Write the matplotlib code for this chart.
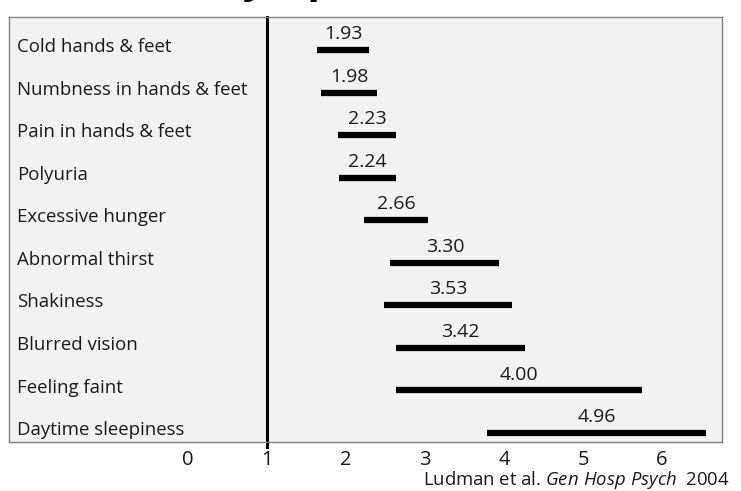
import numpy as np
from matplotlib import pyplot as plt

plt.rcParams['font.family'] = ['Open Sans', 'DejaVu Sans']
plt.rcParams['mathtext.fontset'] = 'custom'
plt.rcParams['mathtext.rm'] = 'Open Sans'
plt.rcParams['mathtext.it'] = 'Open Sans:italic'

symptoms = ['Cold hands & feet', 'Numbness in hands & feet', 'Pain in hands & feet',
            'Polyuria', 'Excessive hunger', 'Abnormal thirst', 'Shakiness',
            'Blurred vision', 'Feeling faint', 'Daytime sleepiness']
values = [1.93, 1.98, 2.23, 2.24, 2.66, 3.30, 3.53, 3.42, 4.00, 4.96]
ci_low = [1.63, 1.68, 1.90, 1.91, 2.23, 2.56, 2.48, 2.63, 2.63, 3.78]
ci_high = [2.29, 2.39, 2.63, 2.63, 3.04, 3.94, 4.10, 4.27, 5.75, 6.56]
x_ticks = [0, 1, 2, 3, 4, 5, 6]

fig = plt.figure(figsize=(7.41, 4.91), dpi=100)
ax = fig.add_axes([0.0121, 0.0998, 0.9623, 0.8656])
ax.set_facecolor('#f2f2f2')
for s in ax.spines.values():
    s.set_color('#7f7f7f')
    s.set_linewidth(1)

rows = np.arange(len(symptoms))
ax.hlines(rows, ci_low, ci_high, color='black', lw=4.5)
ax.axvline(1, ymin=-0.012, ymax=1, color='black', lw=2.2, clip_on=False)

for i, (lab, v, lo, hi) in enumerate(zip(symptoms, values, ci_low, ci_high)):
    ax.text(-2.17, i - 0.07, lab, ha='left', va='center', fontsize=13.4, color='#1a1a1a')
    ax.annotate(f'{v:.2f}', xy=((lo + hi) / 2, i), xytext=(0, 5), textcoords='offset points',
                ha='center', va='bottom', fontsize=14, color='#1a1a1a')

ax.set_xlim(-2.27, 6.76)
ax.set_ylim(9.21, -0.775)
ax.set_xticks(x_ticks)
ax.set_xticklabels([str(t) for t in x_ticks])
ax.tick_params(axis='x', length=0, pad=6, labelsize=14.5, labelcolor='#1a1a1a')
ax.set_yticks([])

# title of the slide, cut off by the top edge
fig.text(0.297, 1 + 8 / 491, 'Symptoms', ha='left', va='baseline', fontsize=30,
         fontweight='bold', color='black')
fig.text(0.571, 1 - 485 / 491, r'Ludman et al. $\mathit{Gen\ Hosp\ Psych}$  2004', ha='left',
         va='baseline', fontsize=13.3, color='#1a1a1a')

fig.savefig('out.png', dpi=100)
